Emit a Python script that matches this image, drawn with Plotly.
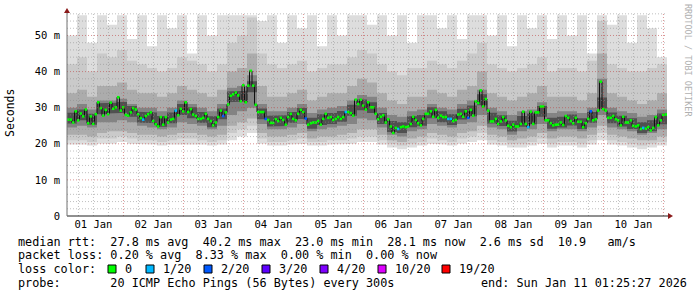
import plotly.graph_objects as go
from datetime import datetime, timedelta

# ---------------- data ----------------
START = datetime(2026, 1, 1, 1, 25, 27)      # 10 days before end
END = datetime(2026, 1, 11, 1, 25, 27)

# hourly median RTT (ms)
median_ms = [
    26.7, 26.7, 25.9, 29.0, 26.5, 28.4, 27.6, 29.5, 25.7, 27.6,
    25.5, 28.2, 31.5, 29.9, 27.8, 29.4, 28.2, 31.4, 29.7, 30.1,
    32.9, 29.2, 30.1, 28.0, 27.8, 28.7, 29.9, 29.5, 28.2, 27.1,
    26.7, 27.7, 28.2, 28.7, 26.3, 25.4, 24.8, 27.4, 25.3, 27.4,
    25.9, 26.7, 26.9, 29.2, 27.9, 29.7, 29.0, 31.5, 28.8, 29.6,
    28.1, 27.7, 26.9, 26.9, 27.2, 28.3, 26.9, 26.3, 25.1, 25.9,
    27.4, 29.2, 27.7, 28.7, 30.9, 33.3, 33.7, 34.2, 33.4, 31.8,
    36.2, 31.5, 36.1, 40.2, 36.1, 30.8, 28.8, 28.8, 28.8, 26.9,
    26.6, 25.8, 25.8, 26.8, 26.3, 27.2, 26.6, 25.3, 27.4, 28.3,
    26.9, 26.5, 28.3, 29.4, 28.8, 27.0, 25.3, 25.7, 25.9, 25.9,
    26.3, 25.3, 26.9, 28.3, 27.2, 27.4, 26.6, 26.9, 27.4, 26.9,
    27.4, 28.8, 28.8, 28.5, 27.8, 32.2, 31.0, 32.2, 30.6, 29.5,
    31.5, 30.1, 30.1, 28.3, 26.8, 27.5, 27.9, 25.9, 26.8, 24.8,
    23.0, 24.4, 24.1, 24.6, 24.8, 24.6, 24.8, 25.5, 27.5, 26.6,
    25.7, 25.1, 26.9, 28.3, 28.3, 29.0, 27.5, 29.4, 27.2, 27.8,
    27.4, 27.4, 26.9, 26.9, 26.3, 26.6, 28.1, 28.3, 27.5, 29.0,
    27.2, 29.4, 27.8, 31.8, 31.3, 34.8, 30.3, 32.4, 29.2, 26.2,
    26.2, 26.9, 25.5, 26.2, 27.4, 26.5, 25.0, 24.6, 25.3, 24.8,
    24.8, 25.5, 28.9, 25.5, 24.6, 28.9, 25.5, 28.7, 28.7, 30.3,
    30.3, 26.5, 26.5, 25.7, 25.1, 25.3, 25.3, 25.9, 25.2, 27.7,
    27.2, 26.3, 25.7, 27.2, 26.1, 26.1, 24.6, 25.7, 26.9, 29.0,
    26.5, 26.8, 29.2, 37.2, 29.6, 29.2, 27.2, 27.2, 27.7, 26.8,
    26.5, 25.1, 27.5, 25.9, 25.9, 26.5, 25.0, 24.8, 25.1, 24.1,
    24.4, 24.2, 24.6, 23.7, 24.4, 27.4, 25.1, 26.5, 28.0, 28.1,
]

# (hour index, lost pings out of 20)
loss_events = [(30, 1), (43, 1), (62, 2), (79, 2), (95, 2), (111, 1), (132, 1),
               (152, 1), (153, 1), (160, 2), (184, 1), (209, 2), (230, 1)]

# smoke (ping distribution), 4-hour blocks, ms
smoke_max = [50, 55.6, 48, 55.6, 53, 55.6, 49, 55.6, 47, 55.6,
             52, 55.6, 45, 55.6, 50, 55.6, 55.6, 55.6, 55.6, 54,
             55.6, 48, 55.6, 52, 55.6, 47, 55.6, 50, 55.6, 55.6,
             53, 55.6, 50, 55.6, 48, 55.6, 55.6, 52, 55.6, 49,
             55.6, 55.6, 50, 55.6, 47, 55.6, 52, 55.6, 49, 55.6,
             50, 55.6, 45, 55.6, 53, 55.6, 48, 55.6, 52, 44]
smoke_hi2 = [42, 44, 40, 45, 44, 46, 43, 42, 41, 40,
             41, 44, 43, 42, 40, 42, 48, 50, 55, 45,
             42, 41, 42, 43, 40, 41, 42, 42, 44, 46,
             45, 42, 40, 39, 41, 41, 43, 42, 41, 43,
             45, 48, 42, 41, 40, 41, 42, 44, 40, 41,
             41, 40, 43, 54, 42, 41, 40, 40, 41, 42]
smoke_hi3 = [34, 35, 33, 36, 36, 37, 35, 34, 34, 33,
             34, 36, 35, 34, 33, 35, 40, 41, 45, 36,
             33, 33, 34, 35, 32, 33, 34, 34, 36, 38,
             37, 34, 32, 31, 33, 33, 35, 34, 33, 35,
             36, 40, 34, 33, 32, 33, 34, 36, 33, 33,
             33, 32, 34, 45, 34, 33, 32, 31, 32, 34]
smoke_hi4 = [30, 31, 29.5, 32, 32, 32.5, 31, 30, 30, 29,
             30, 32, 31, 30, 29, 31, 35.5, 36, 39, 31,
             29, 29, 30, 31, 28.5, 29.5, 30, 30.5, 32, 33.5,
             33, 30, 28, 27.5, 29, 29.5, 31, 30, 29.5, 31,
             32, 35, 30, 29, 28, 29, 29.5, 31.5, 28.5, 29,
             29, 28.5, 30, 38, 30, 29, 28.5, 27.5, 28, 29.5]
smoke_hi5 = [28.6, 29.5, 28.3, 31.2, 31.4, 31.6, 30.5, 28.9, 28.7, 27.7,
             28.7, 31.0, 30.1, 28.8, 27.6, 29.8, 34.5, 34.7, 37.3, 29.8,
             27.8, 27.9, 28.8, 29.9, 27.2, 28.2, 28.5, 29.1, 30.8, 32.3,
             31.5, 28.5, 26.3, 26.0, 27.6, 28.0, 30.1, 29.0, 28.2, 29.7,
             30.6, 33.7, 28.6, 27.9, 26.4, 27.7, 28.4, 30.5, 27.2, 27.5,
             28.1, 27.1, 28.8, 32.8, 28.7, 27.8, 27.1, 26.0, 26.5, 28.4]
smoke_lo5 = [25.6, 26.5, 25.3, 28.2, 28.4, 28.6, 27.5, 25.9, 25.7, 24.7,
             25.7, 28.0, 27.1, 25.8, 24.6, 26.8, 31.5, 31.7, 34.3, 26.8,
             24.8, 24.9, 25.8, 26.9, 24.2, 25.2, 25.5, 26.1, 27.8, 29.3,
             28.5, 25.5, 23.3, 23.0, 24.6, 25.0, 27.1, 26.0, 25.2, 26.7,
             27.6, 30.7, 25.6, 24.9, 23.4, 24.7, 25.4, 27.5, 24.2, 24.5,
             25.1, 24.1, 25.8, 29.8, 25.7, 24.8, 24.1, 23.0, 23.5, 25.4]
smoke_lo4 = [24.5, 25, 24.5, 26, 26, 26.5, 26, 25, 24.5, 24,
             24.5, 26, 25.5, 25, 24, 25, 28, 29, 30, 25.5,
             24, 24, 24.5, 25.5, 23.5, 24, 24.5, 25, 25.5, 27,
             26.5, 24.5, 22.5, 22, 23.5, 24, 25.5, 25, 24.5, 25.5,
             26, 28, 24.5, 24, 22.5, 23.5, 24, 25.5, 23.5, 24,
             24, 23.5, 24.5, 28, 24.5, 24, 23.5, 22.5, 23, 24]
smoke_lo3 = [22.5, 22.5, 22, 23, 23.5, 23.5, 23, 22.5, 22.5, 22,
             22.5, 23, 23, 22.5, 22, 22.5, 25, 26, 27, 23,
             22, 22, 22.5, 23, 21.5, 22, 22, 22.5, 23, 24,
             24, 22.5, 21, 20.5, 21.5, 22, 23, 22.5, 22, 23,
             23.5, 25, 22.5, 22, 21, 21.5, 22, 23, 21.5, 22,
             22, 21.5, 22.5, 25, 22.5, 22, 21.5, 21, 21, 22]
smoke_lo2 = [21, 21, 20.5, 21.5, 21.5, 22, 21.5, 21, 21, 20.5,
             21, 21.5, 21.5, 21, 20.5, 21, 23, 24, 25, 21.5,
             20.5, 20.5, 21, 21.5, 20.5, 20.5, 21, 21, 21.5, 22,
             22, 21, 20, 19.5, 20, 20.5, 21.5, 21, 20.5, 21.5,
             22, 23, 21, 20.5, 20, 20, 20.5, 21.5, 20, 20.5,
             20.5, 20, 21, 23, 21, 20.5, 20, 19.5, 20, 20.5]
smoke_min = [19.8, 19.8, 19.5, 20, 20, 20.5, 20, 19.8, 19.8, 19.5,
             19.8, 20, 20, 19.8, 19.5, 19.8, 21, 22, 23, 20,
             19.5, 19.5, 19.8, 20, 19.5, 19.5, 19.8, 19.8, 20, 20.5,
             20.5, 19.8, 19, 18.5, 19, 19.5, 20, 19.8, 19.5, 20,
             20.5, 21, 19.8, 19.5, 19, 19, 19.5, 20, 19, 19.5,
             19.5, 19, 19.8, 21, 19.8, 19.5, 19, 18.5, 19, 19.5]

y_tick_vals = [0, 10, 20, 30, 40, 50]
y_tick_text = ["0", "10 m", "20 m", "30 m", "40 m", "50 m"]
day_labels = ["01 Jan", "02 Jan", "03 Jan", "04 Jan", "05 Jan",
              "06 Jan", "07 Jan", "08 Jan", "09 Jan", "10 Jan"]

legend_lines = [
    "median rtt:  27.8 ms avg  40.2 ms max  23.0 ms min  28.1 ms now  2.6 ms sd  10.9   am/s",
    "packet loss: 0.20 % avg  8.33 % max  0.00 % min  0.00 % now",
    "loss color:",
    "probe:       20 ICMP Echo Pings (56 Bytes) every 300s",
]
end_text = "end: Sun Jan 11 01:25:27 2026"
loss_labels = ["0", "1/20", "2/20", "3/20", "4/20", "10/20", "19/20"]
loss_colors = ["#00ff00", "#00b8ff", "#0059ff", "#5e00ff", "#7e00ff", "#dd00ff", "#ff0000"]

# ---------------- figure ----------------
W, H = 697, 297
ML, MR, MT, MB = 67, 30, 13, 81
PW, PH = W - ML - MR, H - MT - MB
YMAX = 56.23
MONO = "DejaVu Sans Mono"


def px2paper_x(px):
    return (px - ML) / PW


def px2paper_y(py):
    return (H - MB - py) / PH


hour_t = [START + timedelta(hours=i) for i in range(len(median_ms) + 1)]
block_t = [START + timedelta(hours=4 * i) for i in range(len(smoke_max) + 1)]


def step_poly(times, top, bot):
    xs, ys = [], []
    for k, v in enumerate(top):
        xs += [times[k], times[k + 1]]
        ys += [v, v]
    for k in range(len(bot) - 1, -1, -1):
        xs += [times[k + 1], times[k]]
        ys += [bot[k], bot[k]]
    xs.append(xs[0])
    ys.append(ys[0])
    return xs, ys


fig = go.Figure()

layers = [
    (smoke_max, smoke_min, "#dddddd"),
    (smoke_hi2, smoke_lo2, "#cacaca"),
    (smoke_hi3, smoke_lo3, "#acacac"),
    (smoke_hi4, smoke_lo4, "#838383"),
    (smoke_hi5, smoke_lo5, "#505050"),
]
for top, bot, col in layers:
    xs, ys = step_poly(block_t, top, bot)
    fig.add_trace(go.Scatter(x=xs, y=ys, mode="lines", fill="toself",
                             fillcolor=col, line=dict(width=0),
                             hoverinfo="skip", showlegend=False))

# median step line (dark connectors)
fig.add_trace(go.Scatter(x=hour_t, y=median_ms + [median_ms[-1]], mode="lines",
                         line=dict(color="#101010", width=1, shape="hv"),
                         hoverinfo="skip", showlegend=False))

loss_of = {i: n for i, n in loss_events}
for n, col in [(0, loss_colors[0]), (1, loss_colors[1]), (2, loss_colors[2])]:
    xs, ys = [], []
    for i, v in enumerate(median_ms):
        if loss_of.get(i, 0) == n:
            xs += [hour_t[i], hour_t[i + 1], None]
            ys += [v, v, None]
    fig.add_trace(go.Scatter(x=xs, y=ys, mode="lines",
                             line=dict(color=col, width=2.6),
                             hoverinfo="skip", showlegend=False))

shapes = []
# horizontal grid
for v in range(2, 57, 2):
    major = v % 10 == 0
    shapes.append(dict(type="line", xref="paper", yref="y", x0=0, x1=1, y0=v, y1=v,
                       layer="above",
                       line=dict(color="rgba(190,60,60,0.55)" if major else "rgba(140,140,140,0.55)",
                                 width=1, dash="1px,2px")))
# vertical grid every 6 h
t = datetime(2026, 1, 1, 6)
while t < END:
    major = t.hour == 0
    shapes.append(dict(type="line", xref="x", yref="paper", x0=t, x1=t, y0=0, y1=1,
                       layer="above",
                       line=dict(color="rgba(190,60,60,0.55)" if major else "rgba(140,140,140,0.55)",
                                 width=1, dash="1px,2px")))
    t += timedelta(hours=6)

# axis lines
shapes.append(dict(type="line", xref="paper", yref="paper", x0=0, x1=px2paper_x(669),
                   y0=0, y1=0, line=dict(color="#202020", width=1), layer="above"))
shapes.append(dict(type="line", xref="paper", yref="paper", x0=0, x1=0,
                   y0=0, y1=px2paper_y(10), line=dict(color="#707070", width=1), layer="above"))
# arrows
shapes.append(dict(type="path", xref="paper", yref="paper", xsizemode="pixel", ysizemode="pixel",
                   xanchor=0, yanchor=px2paper_y(13), path="M -3,0 L 3,0 L 0,5 Z",
                   fillcolor="#8b1a1a", line=dict(width=0), layer="above"))
shapes.append(dict(type="path", xref="paper", yref="paper", xsizemode="pixel", ysizemode="pixel",
                   xanchor=px2paper_x(668), yanchor=0, path="M 0,-3 L 0,3 L 5,0 Z",
                   fillcolor="#8b1a1a", line=dict(width=0), layer="above"))

# loss color boxes
box_x = [108, 146, 204, 262, 320, 378, 442]
for bx, col in zip(box_x, loss_colors):
    shapes.append(dict(type="rect", xref="paper", yref="paper",
                       x0=px2paper_x(bx), x1=px2paper_x(bx + 8),
                       y0=px2paper_y(273), y1=px2paper_y(265),
                       fillcolor=col, line=dict(color="#000000", width=1)))

annotations = []
nb = lambda s: s.replace(" ", "\u00a0")
line_y = [241.7, 255.2, 269.0, 282.7]
for txt, yy in zip(legend_lines, line_y):
    annotations.append(dict(text=nb(txt), xref="paper", yref="paper", x=px2paper_x(16), y=px2paper_y(yy),
                            xanchor="left", yanchor="middle", showarrow=False,
                            font=dict(family=MONO, size=11.8, color="#000000")))
annotations.append(dict(text=nb(end_text), xref="paper", yref="paper", x=px2paper_x(479), y=px2paper_y(line_y[3]),
                        xanchor="left", yanchor="middle", showarrow=False,
                        font=dict(family=MONO, size=11.8, color="#000000")))
for bx, lab in zip(box_x, loss_labels):
    annotations.append(dict(text=lab, xref="paper", yref="paper", x=px2paper_x(bx + 14.5), y=px2paper_y(line_y[2]),
                            xanchor="left", yanchor="middle", showarrow=False,
                            font=dict(family=MONO, size=11.8, color="#000000")))
annotations.append(dict(text="Seconds", xref="paper", yref="paper", x=px2paper_x(10), y=px2paper_y(113),
                        xanchor="center", yanchor="middle", textangle=-90, showarrow=False,
                        font=dict(family=MONO, size=11.5, color="#000000")))
annotations.append(dict(text=nb("RRDTOOL / TOBI OETIKER"), xref="paper", yref="paper",
                        x=px2paper_x(688), y=px2paper_y(60),
                        xanchor="center", yanchor="middle", textangle=90, showarrow=False,
                        font=dict(family=MONO, size=8.5, color="#b0b0b0")))

noon_vals = [datetime(2026, 1, d, 12) for d in range(1, 11)]

fig.update_layout(
    width=W, height=H,
    margin=dict(l=ML, r=MR, t=MT, b=MB, pad=0),
    paper_bgcolor="#ffffff", plot_bgcolor="#ffffff",
    shapes=shapes, annotations=annotations,
    xaxis=dict(type="date", range=[START, END], showgrid=False, zeroline=False,
               tickmode="array", tickvals=noon_vals, ticktext=day_labels,
               ticks="", showline=False,
               tickfont=dict(family=MONO, size=10.5, color="#000000")),
    yaxis=dict(range=[0, YMAX], showgrid=False, zeroline=False,
               tickmode="array", tickvals=y_tick_vals, ticktext=y_tick_text,
               ticks="", showline=False, ticklabelstandoff=6,
               tickfont=dict(family=MONO, size=10.5, color="#000000")),
    showlegend=False,
)

fig.write_html("out.html")
